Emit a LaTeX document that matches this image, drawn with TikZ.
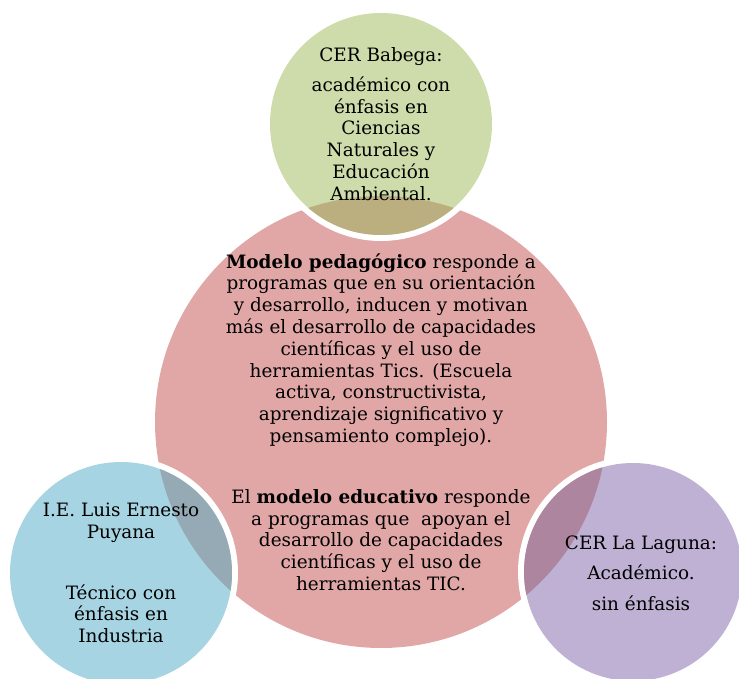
\documentclass[tikz,border=0pt]{standalone}
\usepackage{fontspec}
\setmainfont{DejaVu Serif}
\usepackage{xcolor}
\usepackage{tikz}
\definecolor{RosaModelo}{HTML}{E0A7A6}
\definecolor{VerdeBabega}{HTML}{CDDCAA}
\definecolor{AzulPuyana}{HTML}{A6D4E2}
\definecolor{LilaLaguna}{HTML}{BFB1D3}
\definecolor{OlivaCruce}{HTML}{BBAE7F}
\definecolor{GrisCruce}{HTML}{96AAB5}
\definecolor{MalvaCruce}{HTML}{AD859F}

\begin{document}
\begin{tikzpicture}[
  x=1pt, y=-1pt,
  ring/.style={draw=white, line width=12pt},
  txt/.style={align=center, inner sep=0pt, font=\fontsize{18.4}{21.8}\selectfont}
]
\useasboundingbox (0,0) rectangle (739,679);
\coordinate (cModelo) at (381,422);
\coordinate (cBabega) at (381,124);
\coordinate (cPuyana) at (121,573);
\coordinate (cLaguna) at (633,572);

% circulo central
\fill[RosaModelo] (cModelo) circle[radius=226pt];

% circulos de las sedes, con su cruce
\foreach \c/\r/\col/\cru in {cBabega/111pt/VerdeBabega/OlivaCruce,
                             cPuyana/111pt/AzulPuyana/GrisCruce,
                             cLaguna/109pt/LilaLaguna/MalvaCruce}{
  \draw[ring] (\c) circle[radius=\r];
  \fill[\col] (\c) circle[radius=\r];
  \begin{scope}
    \clip (\c) circle[radius=\r];
    \fill[\cru] (cModelo) circle[radius=226pt];
  \end{scope}
}

\node[txt] (babega) at (381,124) {CER Babega:\\[8pt]
  académico con\\énfasis en\\Ciencias\\Naturales y\\Educación\\Ambiental.};
\node[txt] (pedag) at (381,350) {\textbf{Modelo pedagógico} responde a\\
  programas que en su orientación\\y desarrollo, inducen y motivan\\
  más el desarrollo de capacidades\\científicas y el uso de\\
  herramientas Tics. (Escuela\\activa, constructivista,\\
  aprendizaje significativo y\\pensamiento complejo).};
\node[txt] (educ) at (381,540) {El \textbf{modelo educativo} responde\\
  a programas que\ \ apoyan el\\desarrollo de capacidades\\
  científicas y el uso de\\herramientas TIC.};
\node[txt] (puyana) at (121,573) {I.E. Luis Ernesto\\Puyana\\[39pt]
  Técnico con\\énfasis en\\Industria};
\node[txt] (laguna) at (641,573) {CER La Laguna:\\[8.6pt]Académico.\\[8.6pt]sin énfasis};
\end{tikzpicture}
\end{document}
